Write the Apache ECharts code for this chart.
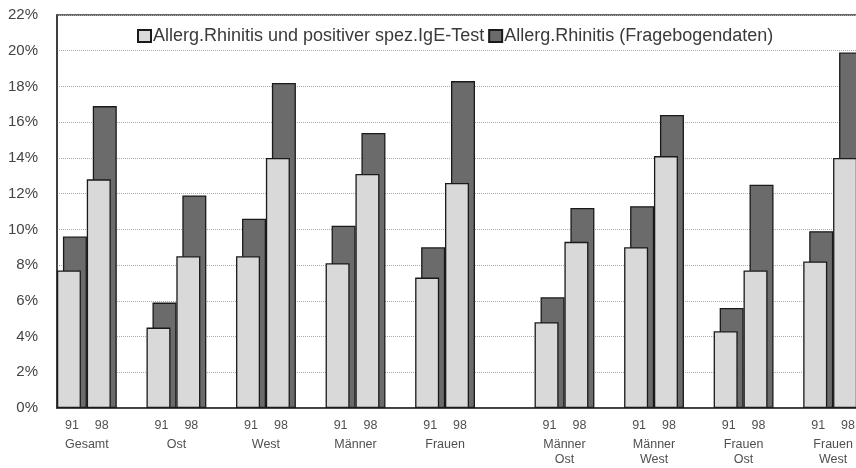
<!DOCTYPE html>
<html>
<head>
<meta charset="utf-8">
<script src="https://cdn.jsdelivr.net/npm/echarts@6/dist/echarts.min.js"></script>
<style>
  html, body { margin: 0; padding: 0; background: #ffffff; }
  #chart { width: 856px; height: 468px; }
</style>
</head>
<body>
<div id="chart"></div>
<script>
// ---- data ----
const years = ['91', '98'];
const groups = ['Gesamt', 'Ost', 'West', 'Männer', 'Frauen', 'Männer\nOst', 'Männer\nWest', 'Frauen\nOst', 'Frauen\nWest'];
const igeTest = [7.7, 12.8, 4.5, 8.5, 8.5, 14.0, 8.1, 13.1, 7.3, 12.6, 4.8, 9.3, 9.0, 14.1, 4.3, 7.7, 8.2, 14.0];
const fragebogen = [9.6, 16.9, 5.9, 11.9, 10.6, 18.2, 10.2, 15.4, 9.0, 18.3, 6.2, 11.2, 11.3, 16.4, 5.6, 12.5, 9.9, 19.9];
const seriesNames = ['Allerg.Rhinitis und positiver spez.IgE-Test', 'Allerg.Rhinitis (Fragebogendaten)'];
const yMin = 0, yMax = 22, yStep = 2;

// ---- build slot layout (gap slot after each group, extra gap after "Frauen") ----
const slotLabels = [];
const groupAt = [];
const s1 = [], s2 = [];
groups.forEach((g, gi) => {
  const first = slotLabels.length;
  years.forEach((y, yi) => {
    slotLabels.push(y);
    s1.push(igeTest[gi * 2 + yi]);
    s2.push(fragebogen[gi * 2 + yi]);
  });
  groupAt[first + 1] = g;
  if (gi < groups.length - 1) { slotLabels.push(''); s1.push('-'); s2.push('-'); }
  if (g === 'Frauen') { slotLabels.push(''); s1.push('-'); s2.push('-'); }
});
const boundaryLabels = [];
for (let i = 0; i <= slotLabels.length; i++) boundaryLabels.push(groupAt[i] || '');

const font = '"Liberation Sans", Arial, sans-serif';
const chart = echarts.init(document.getElementById('chart'));
chart.setOption({
  animation: false,
  backgroundColor: '#ffffff',
  grid: {
    left: 57, top: 15, width: 806, height: 393, outerBoundsMode: 'none', containLabel: false,
    show: true, borderColor: '#333', borderWidth: 1.5, backgroundColor: '#ffffff'
  },
  legend: {
    left: 137, top: 27, padding: 0, itemWidth: 13, itemHeight: 12, itemGap: 4, icon: 'rect',
    textStyle: { fontFamily: font, fontSize: 18, color: '#3a3a3a', padding: [0, 0, 0, -3] },
    data: seriesNames
  },
  xAxis: [
    {
      type: 'category', data: slotLabels, boundaryGap: true,
      axisLine: { show: true, lineStyle: { color: '#333', width: 1.5 } },
      axisTick: { show: false },
      axisLabel: { interval: 0, margin: 11, fontFamily: font, fontSize: 12.5, color: '#505050' }
    },
    {
      type: 'category', data: boundaryLabels, boundaryGap: false, position: 'bottom',
      axisLine: { show: false }, axisTick: { show: false }, splitLine: { show: false },
      axisLabel: { interval: 0, margin: 29, fontFamily: font, fontSize: 12.5, lineHeight: 15, color: '#505050' }
    }
  ],
  yAxis: {
    type: 'value', min: yMin, max: yMax, interval: yStep,
    axisLine: { show: true, lineStyle: { color: '#333', width: 1.5 } },
    axisTick: { show: false },
    axisLabel: { margin: 19, fontFamily: font, fontSize: 15, color: '#444', formatter: v => v + '%' },
    splitLine: { show: true, lineStyle: { color: '#aaa', type: 'dotted', width: 1 } }
  },
  series: [
    {
      name: seriesNames[0], type: 'bar', data: s1, barWidth: 24, barGap: '-75%', z: 3,
      itemStyle: { color: '#d9d9d9', borderColor: '#1a1a1a', borderWidth: 1.3 }
    },
    {
      name: seriesNames[1], type: 'bar', data: s2, barWidth: 24, barGap: '-75%', z: 2,
      itemStyle: { color: '#6b6b6b', borderColor: '#1a1a1a', borderWidth: 1.3 }
    }
  ]
});
</script>
</body>
</html>
